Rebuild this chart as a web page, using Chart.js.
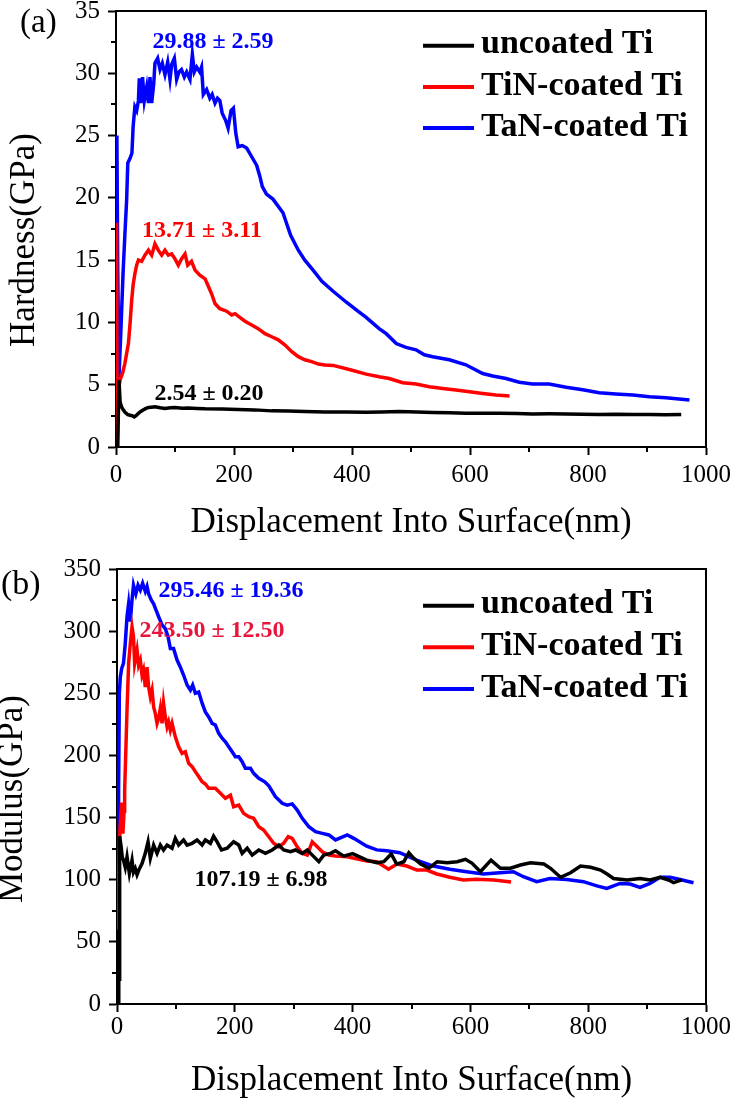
<!DOCTYPE html>
<html>
<head>
<meta charset="utf-8">
<script src="https://cdn.jsdelivr.net/npm/chart.js@4.4.0/dist/chart.umd.min.js"></script>
<style>
  html, body { margin: 0; padding: 0; background: #fff; }
  #wrap { position: relative; width: 733px; height: 1100px; }
  canvas { position: absolute; left: 0; }
  #hardnessChart { top: 0; }
  #modulusChart { top: 550px; }
</style>
</head>
<body>
<div id="wrap">
  <canvas id="hardnessChart" width="733" height="550"></canvas>
  <canvas id="modulusChart" width="733" height="550"></canvas>
</div>
<script>
const seriesLabels = ["uncoated Ti", "TiN-coated Ti", "TaN-coated Ti"];
const seriesColors = ["#000000", "#ff0000", "#0000ff"];

// [displacement nm, hardness GPa]
const hardnessUncoated = [[3,0],[5,5.4],[7,3.6],[9.6,3.2],[12,3.0],[15,2.8],[20,2.6],[24,2.55],[28,2.5],[31,2.42],
  [35,2.55],[38,2.7],[42,2.85],[46,2.97],[50,3.08],[55,3.18],[60,3.2],[66,3.23],[75,3.15],[83,3.1],
  [92,3.15],[100,3.18],[112,3.12],[122,3.13],[137,3.1],[151,3.07],[180,3.05],[207,3.02],[235,2.98],[264,2.9],
  [292,2.88],[320,2.84],[354,2.8],[390,2.8],[424,2.78],[450,2.8],[480,2.84],[510,2.8],[537,2.76],[565,2.74],
  [593,2.7],[620,2.7],[650,2.7],[680,2.68],[706,2.65],[735,2.66],[763,2.65],[790,2.63],[819,2.6],[848,2.62],
  [876,2.6],[905,2.6],[930,2.58],[958,2.6]];
const hardnessTiN = [[0,0],[1,18],[2,0.5],[4,4.5],[7,5.4],[11,5.9],[15,6.7],[21,8.3],[24,10],[26.6,11.8],
  [29,13],[32,13.9],[35,14.6],[38,15.0],[43.5,14.9],[49,15.4],[55,15.8],[60.5,15.4],[66,16.3],[71.7,15.8],
  [77.4,15.4],[83,15.8],[88.7,15.4],[94.4,15.5],[100,15.1],[105.6,14.6],[111,15.1],[117,15.5],[121.5,14.6],[128,14.9],
  [134,14.2],[142,13.8],[151,13.5],[156.5,12.9],[162,12.3],[168,11.5],[176,11.1],[187.6,10.9],[196,10.6],[201.7,10.7],
  [207,10.5],[218.6,10.1],[230,9.8],[241,9.5],[252.5,9.1],[264,8.85],[275,8.6],[286,8.2],[298,7.65],[309,7.25],
  [320,7.0],[331.7,6.85],[343,6.66],[354,6.58],[368,6.55],[397,6.2],[424,5.85],[446,5.64],[463,5.5],[486,5.16],
  [508.5,5.05],[531,4.84],[553.7,4.7],[576,4.57],[599,4.44],[621.5,4.3],[644,4.17],[667,4.1]];
const hardnessTaN = [[0,0],[1.5,25],[3,14],[5,5.6],[8,9],[12,14],[15,17],[18,19.8],[20,22.8],[24,23.2],
  [27,23.6],[29,25.7],[32,27.3],[35,27],[38,27.8],[39.5,29.6],[42,27.6],[45,29.7],[48,27.8],[52,28.9],
  [55,27.6],[57.6,29.7],[60.5,27.6],[64,29.2],[66,30.8],[70.6,31.2],[74.6,30.3],[78.5,30.8],[83,29.9],[87.6,30.9],
  [91.5,29.5],[94.4,30.7],[98.9,31.2],[102.8,29.5],[106.8,30.1],[111,30.3],[115.8,29.7],[119.8,30.1],[125.4,29.5],[129.4,31.5],
  [132.7,30.1],[136.7,30.5],[142,30.1],[145,30.5],[148,28.3],[153.6,28.7],[159,28],[163,28.3],[167.8,27.6],[172,28],
  [176,27.8],[180,26.8],[186,26.2],[190,25.6],[195,27.0],[199,27.2],[203,25.2],[207,24.1],[214,24.2],[221.5,24.0],
  [230,23.3],[238.5,22.6],[244,21.7],[248,20.9],[255,20.3],[266,19.9],[283,18.8],[296,17],[309,15.8],[320,15.0],
  [334,14.2],[349,13.3],[368,12.5],[391,11.6],[410,10.9],[424,10.4],[446,9.5],[458,9.1],[475,8.3],[491.5,8.0],
  [508.5,7.8],[522.6,7.4],[536.7,7.25],[565,7.0],[593,6.6],[621.5,5.9],[638.5,5.7],[661,5.5],[683.6,5.2],[706,5.05],
  [734,5.05],[763,4.8],[791,4.6],[819,4.35],[847,4.25],[876,4.17],[904,4.04],[932,3.96],[972,3.77]];

// [displacement nm, modulus GPa]
const modulusUncoated = [[2.5,0],[3,60],[3.5,20],[4,90],[5,135],[7,126.5],[9,118],[11,115.8],[14,110],[17,118.5],
  [21,105],[25.5,115.8],[28,106],[31,109],[34,104],[37,107.8],[42.5,113],[48,121.2],[52.7,130.5],[56.6,117.2],
  [62.2,127.9],[68,121.2],[73.6,127.9],[79,123.9],[85,127.9],[93.5,125.3],[99,133.3],[104.7,127.9],[113,132],[119,127.9],
  [127.5,129.3],[136,132],[144.5,127.9],[150,132],[158.6,129.3],[164,135],[170,130.5],[177.4,123.9],[187,125.3],[198,130.5],
  [206.7,127.9],[212.5,121.2],[221,125.3],[229.5,119.8],[240.7,123.9],[252,121.2],[263.5,123.9],[274.7,127.9],[283,123.9],[294.6,122.5],
  [303,123.9],[314.5,121.2],[323,123.9],[331.5,119.8],[342.7,114.5],[351,119.8],[362.6,121.2],[371,123.3],[385,119],[400,121],
  [424,115.8],[441,113.7],[453,114.5],[465.5,120.7],[475,112.6],[487,114.5],[495.5,121.7],[504,117.2],[515.5,112.6],[529.5,109.2],
  [543.5,114.5],[560.5,113.7],[577.5,114.5],[591.6,116.4],[603,113.2],[617,106.4],[635,115.8],[651,109.2],[668,109.2],[685,111.8],
  [702,113.7],[724.7,112.6],[736,109.2],[753,102],[770,105.6],[787,111],[804,110],[821,107.8],[832,104.6],[843,101],
  [866,99.8],[888,101],[905,99.8],[922,102],[936.6,99.8],[945,97.6],[959,99.8]];
const modulusTiN = [[1,0],[2.5,95],[5,140],[8,162],[10,137],[12,155],[13,172],[17,236.5],[19.7,274],[22.6,290],
  [25.5,303.5],[28,295.5],[30,274],[34,284.8],[36.7,272.7],[39.6,276.7],[42.5,264.7],[45,268.7],[48,255],[51,271],
  [53.7,255],[56.6,247],[59.5,252.6],[62.2,239],[65,233.8],[68,225.8],[70.7,229.8],[73.6,237.8],[76.5,225.8],[79,242],
  [82,231],[85,223],[87.6,227],[90.6,220.4],[93.5,225.8],[99,215],[104.7,207],[110.5,201.7],[116,203],[121.7,193.6],
  [127.5,191],[133,187],[138.7,183],[144.5,178.8],[150,177],[155.7,173.5],[167,173.5],[175.6,169.5],[184,165.5],[192.6,168],
  [198,158.7],[206.7,160],[215,153.4],[223.7,150.7],[232,149.4],[240.7,142.6],[249,140],[257.7,134.6],[266,129.3],[274.7,126.5],
  [283,129.3],[290.7,134.6],[297.5,133.3],[306,126.5],[314.5,121.2],[323,119.8],[331.5,130.5],[340,126.5],[348.5,122.5],[359.7,119.8],
  [371,119],[391,118.5],[424,115],[441,114.5],[461,108.4],[475,112.6],[492,111],[509,107.8],[526,107.8],[543,104.6],
  [565,102],[588,99.8],[611,100.3],[639.5,99.8],[669,98.2]];
const modulusTaN = [[1,0],[2,100],[2.7,172],[4,250],[5.6,263],[8,270],[11,274],[14,290],[17,311.6],[19.7,322],
  [22.6,307.6],[25.5,325],[28,337],[32,330],[35.7,337],[39.6,333],[43.5,338.5],[48,332],[51,336],[53.7,330],
  [58.3,325],[62.2,322],[66.3,317],[70.7,311.6],[76.5,305],[82,302],[86.7,295.5],[90.6,286],[96,286],[102,276.7],
  [107.6,271],[113,264.7],[119,256.6],[124.6,252.6],[128.5,256.6],[133,250],[138.7,251],[144.5,242],[150,235],[155.7,231],
  [161.5,225.8],[167,224.5],[172.7,217.8],[178.5,213.8],[184,211],[189.7,207],[195.5,203],[201,199],[206.7,199],[212.5,195],
  [218,189.6],[226.6,189.6],[232,185.6],[240.7,181.6],[250.9,178.8],[257.7,175.5],[269,166.8],[280.5,161.5],[289,160],[297.5,161],
  [306,156],[314.5,149.4],[325.7,142.6],[337,138.6],[348.5,137.3],[359.7,136],[371,132],[391,136],[402,133.3],[424,127],
  [441,124],[458,123.3],[480,121.7],[508.5,115.8],[537,111],[565,108.4],[593.6,106.4],[622,104.6],[650,105.6],[673,106.4],
  [690,102.4],[712.6,98.4],[735,101],[763.7,100.2],[792,98.4],[814.7,95],[831.6,93],[854,97],[871,96.5],[888,93.8],
  [905,97],[922,102],[939,102],[956,100.2],[978.8,97.6]];

const hardnessNotes = ["2.54 \u00b1 0.20", "13.71 \u00b1 3.11", "29.88 \u00b1 2.59"];
const modulusNotes = ["107.19 \u00b1 6.98", "243.50 \u00b1 12.50", "295.46 \u00b1 19.36"];

const serif = '"Liberation Serif", "Times New Roman", serif';

function makeChart(canvasId, series, cfg) {
  const datasets = series.map((pts, i) => ({
    label: seriesLabels[i],
    data: pts.map((p) => ({ x: p[0], y: p[1] })),
    borderColor: seriesColors[i],
    borderWidth: 3.5,
    pointRadius: 0,
    tension: 0,
    fill: false,
  }));

  // frame, minor ticks, titles, legend and value notes
  const decor = {
    id: "decor",
    afterDraw(chart) {
      const ctx = chart.ctx;
      const a = chart.chartArea;
      const xs = chart.scales.x;
      const ys = chart.scales.y;
      ctx.save();
      ctx.strokeStyle = "#000";
      ctx.lineWidth = 2;
      ctx.beginPath();
      ctx.moveTo(a.left, a.top);
      ctx.lineTo(a.right, a.top);
      ctx.lineTo(a.right, a.bottom);
      ctx.stroke();

      ctx.beginPath();
      for (let v = 100; v < 1000; v += 200) {
        const px = Math.round(xs.getPixelForValue(v));
        ctx.moveTo(px, a.bottom);
        ctx.lineTo(px, a.bottom + 5);
      }
      for (let v = cfg.yStep / 2; v < cfg.yMax; v += cfg.yStep) {
        const py = Math.round(ys.getPixelForValue(v));
        ctx.moveTo(a.left, py);
        ctx.lineTo(a.left - 5, py);
      }
      ctx.stroke();

      ctx.fillStyle = "#000";
      ctx.font = "35px " + serif;
      ctx.textAlign = "center";
      ctx.textBaseline = "middle";
      ctx.fillText("Displacement Into Surface(nm)", (a.left + a.right) / 2, cfg.xTitleY);
      ctx.save();
      ctx.translate(cfg.yTitleX, cfg.yTitleY);
      ctx.rotate(-Math.PI / 2);
      ctx.fillText(cfg.yTitle, 0, 0);
      ctx.restore();

      ctx.textAlign = "left";
      ctx.textBaseline = "alphabetic";
      ctx.font = cfg.panelSize + "px " + serif;
      ctx.fillText(cfg.panel, cfg.panelX, cfg.panelY);

      // legend
      ctx.font = "bold 34px " + serif;
      ctx.lineWidth = 4;
      seriesLabels.forEach((label, i) => {
        const y = cfg.legendY[i];
        ctx.strokeStyle = seriesColors[i];
        ctx.beginPath();
        ctx.moveTo(423, y);
        ctx.lineTo(474, y);
        ctx.stroke();
        ctx.fillStyle = "#000";
        ctx.fillText(label, 481, y + 7.5);
      });

      ctx.font = "bold 24px " + serif;
      ctx.textAlign = "center";
      cfg.notes.forEach((text, i) => {
        ctx.fillStyle = cfg.noteColors[i];
        ctx.fillText(text, cfg.notePos[i][0], cfg.notePos[i][1]);
      });
      ctx.restore();
    },
  };

  const tickFont = { family: serif, size: 25 };

  return new Chart(document.getElementById(canvasId), {
    type: "line",
    data: { datasets: datasets },
    options: {
      responsive: false,
      animation: false,
      devicePixelRatio: 1,
      layout: { padding: { top: cfg.top, right: 27, left: 0, bottom: 0 } },
      plugins: { legend: { display: false }, tooltip: { enabled: false } },
      scales: {
        x: {
          type: "linear",
          min: 0,
          max: 1000,
          ticks: {
            stepSize: 200, padding: cfg.xPad, color: "#000", font: tickFont, maxRotation: 0,
            callback: (v) => String(v),
          },
          grid: { drawOnChartArea: false, tickLength: 8, tickWidth: 2, tickColor: "#000" },
          border: { color: "#000", width: 2 },
          afterFit(s) {
            s.height = cfg.xHeight;
            s.paddingLeft = 0;
            s.paddingRight = 0;
          },
        },
        y: {
          type: "linear",
          min: 0,
          max: cfg.yMax,
          ticks: { stepSize: cfg.yStep, padding: 8, color: "#000", font: tickFont, callback: (v) => String(v) },
          grid: { drawOnChartArea: false, tickLength: 8, tickWidth: 2, tickColor: "#000" },
          border: { color: "#000", width: 2 },
          afterFit(s) {
            s.width = cfg.yWidth;
            s.paddingTop = 0;
            s.paddingBottom = 0;
          },
        },
      },
    },
    plugins: [decor],
  });
}

makeChart("hardnessChart", [hardnessUncoated, hardnessTiN, hardnessTaN], {
  top: 11, xHeight: 103, yWidth: 116, xPad: 5,
  yMax: 35, yStep: 5,
  yTitle: "Hardness(GPa)", yTitleX: 25, yTitleY: 240, xTitleY: 523,
  panel: "(a)", panelSize: 33, panelX: 20, panelY: 32,
  legendY: [45.7, 87, 128],
  notes: hardnessNotes,
  noteColors: ["#000000", "#ff0000", "#0000ff"],
  notePos: [[209, 400], [202, 237], [213, 48]],
});

makeChart("modulusChart", [modulusUncoated, modulusTiN, modulusTaN], {
  top: 19, xHeight: 96, yWidth: 117, xPad: 0,
  yMax: 350, yStep: 50,
  yTitle: "Modulus(GPa)", yTitleX: 13, yTitleY: 249, xTitleY: 531,
  panel: "(b)", panelSize: 34, panelX: 1, panelY: 44,
  legendY: [55.7, 97.3, 139],
  notes: modulusNotes,
  noteColors: ["#000000", "#e8143c", "#0000ff"],
  notePos: [[261, 336], [212, 87], [231, 47]],
});
</script>
</body>
</html>
